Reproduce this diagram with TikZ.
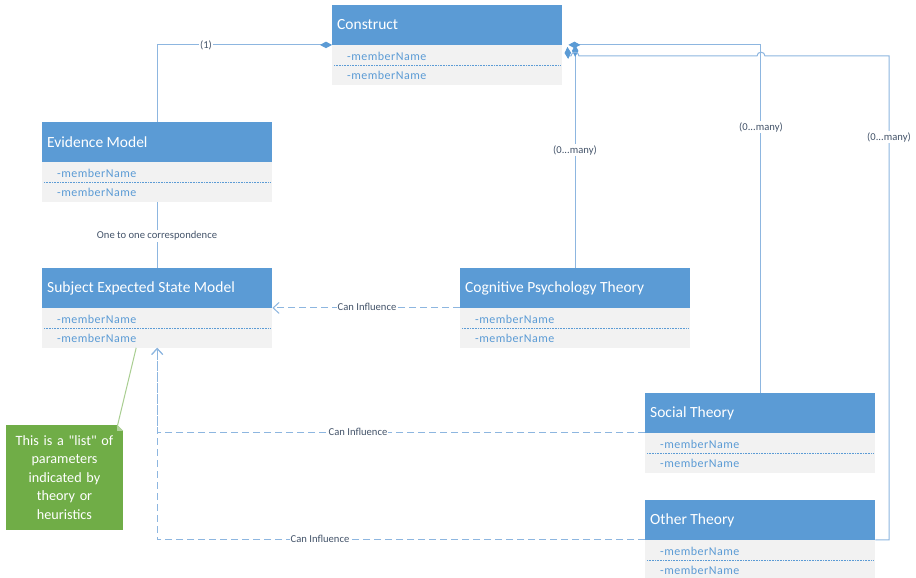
\documentclass[tikz,border=0pt]{standalone}
\usepackage{fontspec}
\setmainfont{Carlito}
\newfontfamily\notefont{Carlito}[Ligatures=TeXOff]
\usetikzlibrary{arrows.meta}
\definecolor{hdrblue}{HTML}{5B9BD5}
\definecolor{bodygray}{HTML}{F2F2F2}
\definecolor{memblue}{HTML}{5B9BD5}
\definecolor{lineblue}{HTML}{8DB6E0}
\definecolor{lbltext}{HTML}{44546A}
\definecolor{notegreen}{HTML}{70AD47}
\tikzset{
  hdr/.style={fill=hdrblue, draw=none, minimum width=230pt, minimum height=39.5pt, inner sep=0pt, anchor=north west},
  hdrtxt/.style={anchor=west, inner sep=0pt, text=white, font=\fontsize{15.5}{18}\selectfont},
  bdy/.style={fill=bodygray, draw=none, minimum width=230pt, minimum height=39.5pt, inner sep=0pt, anchor=north west},
  mem/.style={anchor=west, inner sep=0pt, text=memblue, font=\fontsize{12}{14}\selectfont\addfontfeatures{LetterSpace=4}},
  sepline/.style={draw=memblue, densely dotted, line width=0.6pt},
  conn/.style={draw=lineblue, line width=1pt},
  comp/.style={conn, {Diamond[length=12pt,width=6.5pt,fill=hdrblue,color=hdrblue]}-},
  dep/.style={draw=lineblue, line width=1pt, dash pattern=on 7pt off 4pt, -{Straight Barb[length=6pt,width=11pt,color=lineblue]}},
  lbl/.style={fill=white, inner sep=1pt, text=lbltext, font=\fontsize{10.6}{12}\selectfont},
  note/.style={fill=notegreen, draw=none, minimum width=117pt, minimum height=105pt, inner sep=0pt, text=white, align=center, text width=114pt, font=\notefont\fontsize{14.2}{18.5}\selectfont},
  noteline/.style={draw=notegreen!60, line width=1pt}
}
\newcommand\umlclass[4]{%
  \node[hdr] (#1) at (#2,#3) {};
  \node[hdrtxt] at ([xshift=5pt]#1.west) {#4};
  \node[bdy] (#1b) at (#1.south west) {};
  \node[mem] at ([xshift=15pt,yshift=-11pt]#1b.north west) {-memberName};
  \node[mem] at ([xshift=15pt,yshift=-30pt]#1b.north west) {-memberName};
  \draw[sepline] ([xshift=2pt,yshift=-20.5pt]#1b.north west) -- ([xshift=-2pt,yshift=-20.5pt]#1b.north east);
}
\begin{document}
\begin{tikzpicture}[x=1pt,y=-1pt]
\useasboundingbox (0,0) rectangle (916,578);
\clip (0,0) rectangle (916,578);
\fill[white] (0,0) rectangle (916,578);

\umlclass{construct}{332}{5}{Construct}
\umlclass{evidence}{42}{122}{Evidence Model}
\umlclass{sesm}{42}{268}{Subject Expected State Model}
\umlclass{cognitive}{460}{268}{Cognitive Psychology Theory}
\umlclass{social}{645}{393}{Social Theory}
\umlclass{other}{645}{500}{Other Theory}

% note
\node[note] (note) at (64.5,477.5) {This is a "list" of\\parameters\\indicated by\\theory or\\heuristics};
\fill[white] ([xshift=-6pt]note.north east) -- (note.north east) -- ([yshift=-6pt]note.north east) -- cycle;
\fill[notegreen!55] ([xshift=-6pt]note.north east) -- ([xshift=-6pt,yshift=-6pt]note.north east) -- ([yshift=-6pt]note.north east) -- cycle;
\draw[noteline] ([xshift=-6pt,yshift=-2pt]note.north east) -- ([xshift=-21pt]sesmb.south);

% composition connectors
\draw[comp] (construct.south west) -| (evidence.north);
\draw[conn] (evidenceb.south) -- (sesm.north);
\draw[comp] ([xshift=6pt]construct.south east) -| (social.north);
\draw[comp] (construct.south east -| cognitive.north) -- (cognitive.north);
\coordinate (ocorner) at (889,56);
\draw[comp] ([xshift=5pt,yshift=-2pt]construct.south east) -- (568,56) -- (571,56)
   .. controls (571,51) and (579,51) .. (579,56) -- (757,56)
   .. controls (757,51) and (765,51) .. (765,56) -- (ocorner) |- (other.south east);

% dependency connectors
\draw[dep] (cognitive.south west) -- (sesm.south east);
\draw[dep] (social.south west) -| (sesmb.south);
\draw[dep] (other.south west) -| (sesmb.south);

% labels
\node[lbl] at (206,45) {(1)};
\node[lbl] at (157,236) {One to one correspondence};
\node[lbl] at (367,307) {Can Influence};
\node[lbl] at (358,432) {Can Influence};
\node[lbl] at (320,539) {Can Influence};
\node[lbl] at (575,150) {(0...many)};
\node[lbl] at (761,127) {(0...many)};
\node[lbl] at (889,137) {(0...many)};
\end{tikzpicture}
\end{document}
